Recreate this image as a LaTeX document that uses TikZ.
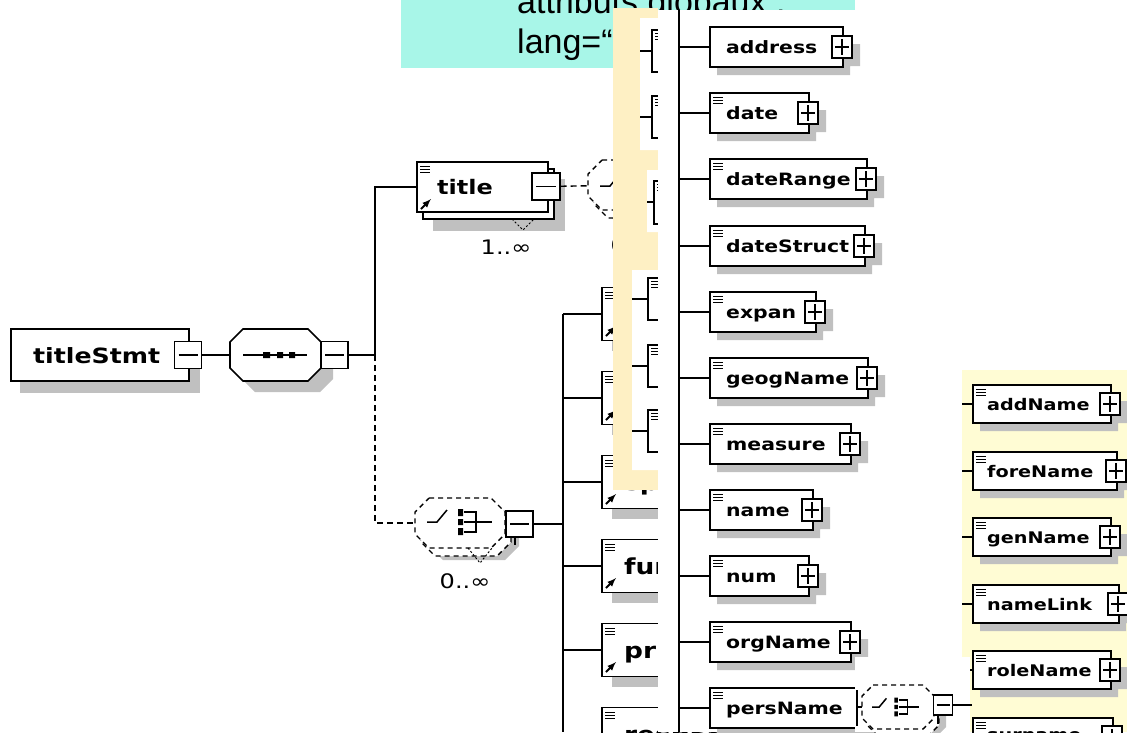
\documentclass[tikz,border=0pt]{standalone}
\usepackage{fontspec}
\newfontfamily\xsdfont[FakeStretch=1.2]{DejaVu Sans}
\newfontfamily\capfont{Liberation Sans}
\definecolor{shadowgray}{RGB}{192,192,192}
\definecolor{cyanbg}{RGB}{168,246,232}
\definecolor{midyellow}{RGB}{254,240,196}
\definecolor{rightyellow}{RGB}{255,252,212}

% octagon of a compositor: x, y, width, height, chamfer, style
\newcommand{\octa}[6]{%
  \path[#6] (#1+#5,#2) -- (#1+#3-#5,#2) -- (#1+#3,#2+#5) -- (#1+#3,#2+#4-#5)
    -- (#1+#3-#5,#2+#4) -- (#1+#5,#2+#4) -- (#1,#2+#4-#5) -- (#1,#2+#5) -- cycle;}
% switch symbol of a choice: x0, y0, scale
\newcommand{\choiceicon}[3]{%
  \begin{scope}[shift={(#1,#2)},scale=#3]
    \draw[line width=1.5pt] (0,0) -- (10,0) -- (20,-12);
    \fill (31,-13) rectangle (36,-6) (31,-3) rectangle (36,3) (31,6) rectangle (36,13);
    \draw[line width=1.5pt] (37,-10) -- (49,-10) -- (49,10) -- (37,10) (37,0) -- (65,0);
  \end{scope}}
% documentation mark in a box corner
\newcommand{\docicon}[2]{%
  \draw[line width=1pt] (#1,#2) -- ++(10,0) (#1,#2+3) -- ++(10,0) (#1,#2+6) -- ++(10,0);}

\begin{document}
\begin{tikzpicture}[x=1pt,y=-1pt]
  \tikzstyle{conn}=[line width=1.6pt]
  \tikzstyle{dconn}=[line width=1.4pt,dash pattern=on 6pt off 4pt]
  \tikzstyle{dshape}=[draw,fill=white,line width=1.4pt,dash pattern=on 5pt off 4pt]
  \tikzstyle{elem}=[draw,fill=white,line width=1.6pt,inner sep=0pt,anchor=west,minimum height=40pt]
  \tikzstyle{pm}=[draw,fill=white,line width=1.4pt,inner sep=0pt]
  \tikzstyle{minusbox}=[pm,minimum width=27pt,minimum height=27pt,
    path picture={\draw[line width=1.4pt] ([xshift=4pt]path picture bounding box.west) -- ([xshift=-4pt]path picture bounding box.east);}]
  \tikzstyle{plusbox}=[pm,minimum width=20pt,minimum height=22pt,
    path picture={\draw[line width=1.2pt] ([xshift=3pt]path picture bounding box.west) -- ([xshift=-3pt]path picture bounding box.east)
      ([yshift=-3pt]path picture bounding box.north) -- ([yshift=3pt]path picture bounding box.south);}]
  \tikzstyle{hook}=[inner sep=0pt]
  \tikzstyle{biglbl}=[anchor=base west,inner sep=0pt,font=\xsdfont\bfseries\fontsize{20}{24}\selectfont]
  \tikzstyle{midlbl}=[anchor=base west,inner sep=0pt,font=\xsdfont\bfseries\fontsize{17}{20}\selectfont]
  \tikzstyle{smalllbl}=[anchor=base west,inner sep=0pt,font=\xsdfont\bfseries\fontsize{16}{19}\selectfont]
  \tikzstyle{card}=[inner sep=0pt,font=\xsdfont\fontsize{20}{24}\selectfont]
  \tikzstyle{caption}=[anchor=base west,inner sep=0pt,font=\capfont\fontsize{34}{40}\selectfont]
  \useasboundingbox (0,0) rectangle (1127,732);
  \clip (0,0) rectangle (1127,732);
% caption
  \fill[cyanbg] (401,0) rectangle (855,68);
  \node[caption] (globaux) at (517,13) {attributs globaux :};
  \node[caption] (lang)    at (517,53) {lang=“};
% left screenshot: titleStmt and its sequence
  \fill[shadowgray] (20,341) rectangle (200,393);
  \node[elem,minimum width=178pt,minimum height=52pt] (titleStmt-box) at (10,355) {};
  \node[biglbl,font=\xsdfont\bfseries\fontsize{21}{24}\selectfont] (titleStmt) at (33,363) {titleStmt};
  \node[minusbox] (titleStmt-min) at (188,355) {};
  \octa{242}{340}{91}{52}{13}{fill=shadowgray}
  \octa{230}{329}{91}{52}{13}{draw,fill=white,line width=1.6pt}
  \node[hook,minimum width=91pt,minimum height=52pt] (seq) at (275.5,355) {};
  \draw[conn] (243,355) -- (307,355);
  \fill (263,352) rectangle (270,358) (277,352) rectangle (283,358) (289,352) rectangle (295,358);
  \node[minusbox] (seq-min) at (334.5,355) {};
  \draw[conn] (titleStmt-min) -- (seq);
  \coordinate (fork) at (375,355);
% title
  \fill[shadowgray] (433,179) rectangle (565,231);
  \draw[fill=white,line width=1.4pt] (423,169) rectangle (554,219);
  \node[elem,minimum width=131pt,minimum height=50pt] (title-box) at (416,187) {};
  \docicon{420}{166}
  \draw[line width=2pt,-latex] (421,209) -- (431,199);
  \node[biglbl] (title) at (437,194) {title};
  \node[minusbox,minimum width=28pt] (title-min) at (546,186.5) {};
  \draw[line width=1pt,dash pattern=on 2pt off 2pt] (512,219) -- (523,230) -- (534,219);
  \node[card] (title-card) at (506,247) {1..∞};
  \draw[conn] (seq-min) -- (fork) |- (title-box.west);
% choice after title (mostly hidden)
  \octa{602}{172}{90}{50}{14}{fill=shadowgray}
  \octa{594}{168}{90}{50}{14}{dshape}
  \octa{588}{160}{90}{50}{14}{dshape}
  \node[hook,minimum width=90pt,minimum height=50pt] (title-ch) at (633,185) {};
  \choiceicon{600}{186}{1}
  \node[card] (title-ch-card) at (636,245) {0..∞};
  \draw[dconn] (title-min) -- (title-ch);
% choice of the children
  \octa{429}{510}{90}{50}{14}{fill=shadowgray}
  \octa{421}{506}{90}{50}{14}{dshape}
  \octa{415}{498}{90}{50}{14}{dshape}
  \node[hook,minimum width=90pt,minimum height=50pt] (choice) at (460,523) {};
  \choiceicon{427}{522}{1}
  \draw[line width=1pt,dash pattern=on 2pt off 2pt] (468,548) -- (480,563) -- (492,548);
  \node[minusbox,minimum height=26pt] (choice-min) at (519.5,524) {};
  \draw[line width=1.4pt] (515,537) -- (515,545);
  \node[card] (choice-card) at (465,581) {0..∞};
  \draw[dconn] (fork) |- (choice);
  \coordinate (bus2) at (563,524);
  \coordinate (bus2-top) at (563,314);
  \coordinate (bus2-end) at (563,732);
  \draw[conn] (choice-min) -- (bus2);
  \draw[conn] (bus2-top) -- (bus2-end);
  \foreach \nm/\cy in {author/314,editor/398,sponsor/482,funder/566,principal/650,respStmt/734}{
    \fill[shadowgray] (612,\cy-16) rectangle (730,\cy+37);
    \node[elem,minimum width=118pt,minimum height=53pt] (\nm-box) at (601,\cy) {};
    \docicon{605}{\cy-22}
    \draw[line width=2pt,-latex] (606,\cy+22) -- (616,\cy+12);
    \node[biglbl,font=\xsdfont\bfseries\fontsize{22}{26}\selectfont] (\nm) at (624,\cy+8) {\nm};
    \draw[conn] (563,\cy) -- (\nm-box);
  }
% middle yellow strip
  \fill[midyellow] (613,8) rectangle (658,490);
  \fill[white] (640,18) rectangle (658,150) (647,170) rectangle (658,232) (632,270) rectangle (658,470);
  \foreach \cy in {51,117}{
    \draw[conn] (640,\cy) -- (652,\cy);
    \draw[line width=1.6pt] (658,\cy-21) -| (652,\cy+21) -- (658,\cy+21);
    \docicon{655}{\cy-18}
  }
  \draw[conn] (647,202) -- (654,202);
  \draw[line width=1.6pt] (658,181) -| (654,224) -- (658,224);
  \docicon{657}{184}
  \foreach \cy in {299,366,431}{
    \draw[conn] (632,\cy) -- (648,\cy);
    \draw[line width=1.6pt] (658,\cy-21) -| (648,\cy+21) -- (658,\cy+21);
    \docicon{651}{\cy-18}
  }
% middle screenshot: name-like elements
  \fill[white] (658,10) rectangle (962,732);
  \coordinate (bus3-top) at (679,10);
  \coordinate (bus3-end) at (679,732);
  \draw[conn] (bus3-top) -- (bus3-end);
  \foreach \nm/\rx/\cy/\ic in {address/842/47/0,date/808/113/1,dateRange/866/179/1,dateStruct/864/246/1,
                               expan/815/312/1,geogName/867/378/1,measure/850/444/1,name/812/510/1,
                               num/808/576/1,orgName/850/642/1,persName/880/708/1}{
    \pgfmathsetmacro{\bw}{\rx-709}
    \fill[shadowgray] (717,\cy-12) rectangle (\rx+8,\cy+28) (\rx-2,\cy-3) rectangle (\rx+18,\cy+19);
    \node[elem,minimum width=\bw pt] (\nm-box) at (709,\cy) {};
    \ifnum\ic=1 \docicon{713}{\cy-16}\fi
    \node[midlbl] (\nm) at (726,\cy+6) {\nm};
    \node[plusbox] (\nm-plus) at (\rx,\cy) {};
    \draw[conn] (679,\cy) -- (\nm-box);
  }
% right screenshot: parts of persName
  \fill[rightyellow] (962,370) rectangle (1127,732);
  \foreach \nm/\rx/\cy/\by in {addName/1110/404/6,foreName/1116/471/6,genName/1110/537/6,
                               nameLink/1118/604/6,roleName/1110/670/6,surname/1112/737/3}{
    \pgfmathsetmacro{\bw}{\rx-972}
    \fill[shadowgray] (980,\cy-11) rectangle (\rx+8,\cy+27) (\rx-2,\cy-3) rectangle (\rx+18,\cy+19);
    \node[elem,minimum height=38pt,minimum width=\bw pt] (\nm-box) at (972,\cy) {};
    \docicon{976}{\cy-15}
    \node[smalllbl] (\nm) at (987,\cy+\by) {\nm};
    \node[plusbox] (\nm-plus) at (\rx,\cy) {};
    \draw[conn] (962,\cy) -- (\nm-box);
  }
% choice of persName
  \fill[white] (855,657) rectangle (970,732);
  \draw[line width=1.6pt] (857,690) -- (857,726);
  \coordinate (pers-end) at (857,707);
  \octa{874}{694}{72}{44}{11}{fill=shadowgray}
  \octa{867}{692}{72}{44}{11}{dshape}
  \octa{862}{685}{72}{44}{11}{dshape}
  \node[hook,minimum width=72pt,minimum height=44pt] (pers-ch) at (898,707) {};
  \choiceicon{872}{707}{0.72}
  \node[pm,minimum width=19pt,minimum height=20pt,
    path picture={\draw[line width=1.2pt] ([xshift=3pt]path picture bounding box.west) -- ([xshift=-3pt]path picture bounding box.east);}]
    (pers-min) at (943,705) {};
  \draw[line width=1.4pt] (938,715) -- (938,724);
  \coordinate (pers-out) at (972,705);
  \draw[dconn] (pers-end) -- (pers-ch);
  \draw[conn] (pers-min) -- (pers-out);
\end{tikzpicture}
\end{document}
